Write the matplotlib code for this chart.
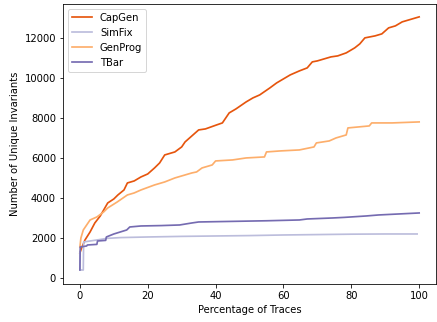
import matplotlib
matplotlib.use("Agg")
import matplotlib.pyplot as plt

# percentage of traces -> number of unique invariants
capgen_x = [0, 0.5, 1.5, 3, 4.4, 6, 8.2, 10, 11.2, 13, 14, 16, 18, 20, 22, 23.5, 25,
            28, 30, 31, 33, 35, 37, 40.3, 42, 44, 46, 49, 51, 53, 56, 58, 60, 62,
            64.7, 67, 68.5, 70, 74, 76, 78.5, 81, 82.5, 84, 87, 89, 91, 93, 95, 97,
            100]
capgen_y = [1250, 1500, 1900, 2300, 2750, 3100, 3750, 3950, 4150, 4400, 4750, 4850,
            5050, 5200, 5500, 5750, 6150, 6300, 6550, 6800, 7100, 7400, 7450, 7650,
            7750, 8250, 8450, 8800, 9000, 9150, 9500, 9750, 9950, 10150, 10350, 10500,
            10800, 10850, 11050, 11100, 11250, 11500, 11700, 12000, 12100, 12200,
            12500, 12600, 12800, 12900, 13050]

simfix_x = [0, 0.05, 1.0, 1.1, 3, 5, 8, 12, 20, 30, 40, 50, 60, 70, 80, 90, 99.4]
simfix_y = [1300, 400, 400, 1800, 1850, 1900, 1980, 2020, 2050, 2080, 2100, 2120,
            2150, 2170, 2190, 2200, 2200]

genprog_x = [0, 0.3, 1, 2, 3, 5, 7, 8.2, 11, 14, 16, 18, 22, 25, 28, 31, 33, 34.4,
             36, 39, 40, 45, 49, 54.4, 55, 59, 64.7, 69, 69.7, 73.5, 75.5, 78.5,
             79, 85.3, 86, 92, 100]
genprog_y = [1550, 2000, 2400, 2650, 2900, 3050, 3300, 3500, 3800, 4150, 4250, 4400,
             4650, 4800, 5000, 5150, 5250, 5300, 5500, 5650, 5850, 5900, 6000, 6050,
             6300, 6350, 6400, 6550, 6750, 6850, 7000, 7150, 7500, 7600, 7750, 7750,
             7800]

tbar_x = [0, 0.1, 2, 2.2, 5, 5.2, 7.6, 7.8, 10, 13.8, 14.7, 18, 24, 29.4, 33, 35,
          45, 55, 64.7, 67, 74.5, 78, 84.4, 88, 94, 100]
tbar_y = [400, 1550, 1600, 1650, 1680, 1850, 1880, 2050, 2200, 2400, 2550, 2600,
          2620, 2650, 2750, 2800, 2830, 2860, 2900, 2950, 3000, 3030, 3100, 3150,
          3200, 3250]

DPI = 72
fig = plt.figure(figsize=(437 / DPI, 322 / DPI), dpi=DPI)
ax = fig.add_axes([0.144, 0.118, 0.854, 0.870])

ax.plot(capgen_x, capgen_y, color="#e6550d", linewidth=1.7, label="CapGen")
ax.plot(simfix_x, simfix_y, color="#bcbddc", linewidth=1.7, label="SimFix")
ax.plot(genprog_x, genprog_y, color="#fdae6b", linewidth=1.7, label="GenProg")
ax.plot(tbar_x, tbar_y, color="#756bb1", linewidth=1.7, label="TBar")

ax.set_xlim(-5, 105)
ax.set_ylim(-300, 13700)
ax.set_xticks([0, 20, 40, 60, 80, 100])
ax.set_yticks([0, 2000, 4000, 6000, 8000, 10000, 12000])
ax.set_xlabel("Percentage of Traces")
ax.set_ylabel("Number of Unique Invariants")
ax.legend(loc="upper left")

fig.savefig("out.png", dpi=DPI)
